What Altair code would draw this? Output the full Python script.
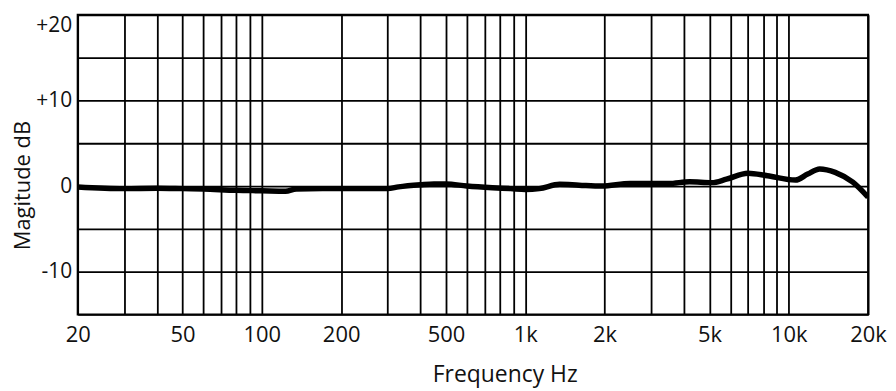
import altair as alt
import pandas as pd

# Frequency response curve
freq_hz = [20, 30, 40, 50, 60, 80, 100, 123, 135, 170, 250, 300, 330, 400, 450, 500,
           600, 750, 880, 1000, 1130, 1350, 1600, 1950, 2500, 3500, 4200, 5100, 5800,
           7000, 8300, 10600, 11800, 13100, 15000, 17500, 20000]
magnitude_db = [-0.1, -0.3, -0.25, -0.3, -0.35, -0.5, -0.55, -0.6, -0.35, -0.3, -0.3, -0.3,
                -0.1, 0.15, 0.25, 0.25, 0.0, -0.2, -0.3, -0.4, -0.3, 0.2, 0.1, 0.0, 0.3,
                0.3, 0.5, 0.4, 0.8, 1.5, 1.2, 0.7, 1.4, 2.0, 1.6, 0.45, -1.3]

# Grid and tick values
grid_freqs = [20, 30, 40, 50, 60, 70, 80, 90, 100, 200, 300, 400, 500, 600, 700, 800, 900,
              1000, 2000, 3000, 4000, 5000, 6000, 7000, 8000, 9000, 10000, 20000]
label_freqs = [20, 50, 100, 200, 500, 1000, 2000, 5000, 10000, 20000]
grid_db = [-15, -10, -5, 0, 5, 10, 15, 20]
label_db = {20: "+20", 10: "+10", 0: "0", -10: "-10"}

df = pd.DataFrame({"f": freq_hz, "db": magnitude_db})

FONT = "Open Sans"

x_label_expr = (
    "indexof([" + ",".join(str(v) for v in label_freqs) + "], datum.value) >= 0 ? "
    "(datum.value >= 1000 ? (datum.value / 1000) + 'k' : '' + datum.value) : ''"
)
y_label_expr = " : ".join(
    f"datum.value == {k} ? '{v}'" for k, v in label_db.items()
) + " : ''"

chart = (
    alt.Chart(df)
    .mark_line(color="black", strokeWidth=5.5, interpolate="monotone", clip=True)
    .encode(
        x=alt.X(
            "f:Q",
            scale=alt.Scale(type="log", domain=[20, 20000], nice=False),
            axis=alt.Axis(
                values=grid_freqs,
                labelExpr=x_label_expr,
                title="Frequency Hz",
                grid=True,
                gridColor="black",
                gridWidth=1.8,
                gridOpacity=1,
                domain=False,
                ticks=False,
                labelFont=FONT,
                labelFontSize=22,
                labelColor="#111",
                labelPadding=10,
                labelOverlap=False,
                labelFlush=False,
                titleFont=FONT,
                titleFontSize=23,
                titleFontWeight="normal",
                titleColor="#111",
                titleX=429,
                titleY=67,
                titleBaseline="alphabetic",
                titleAlign="center",
            ),
        ),
        y=alt.Y(
            "db:Q",
            scale=alt.Scale(domain=[-15, 20], nice=False, zero=False),
            axis=alt.Axis(
                values=grid_db,
                labelExpr=y_label_expr,
                title="Magitude dB",
                grid=True,
                gridColor="black",
                gridWidth=1.8,
                gridOpacity=1,
                domain=False,
                ticks=False,
                labelFont=FONT,
                labelFontSize=21,
                labelColor="#111",
                labelPadding=6,
                labelFlush=True,
                labelOverlap=False,
                titleFont=FONT,
                titleFontSize=22,
                titleFontWeight="normal",
                titleColor="#111",
                titleAngle=270,
                titleX=-48,
                titleY=171,
                titleBaseline="alphabetic",
                titleAlign="center",
            ),
        ),
    )
    .properties(
        width=794,
        height=301,
        autosize=alt.AutoSizeParams(type="none"),
        padding={"left": 70, "top": 6, "right": 20, "bottom": 74},
        background="white",
    )
    .configure_view(stroke="black", strokeWidth=2)
)

chart.save("out.html", embed_options={"renderer": "svg", "actions": False})
